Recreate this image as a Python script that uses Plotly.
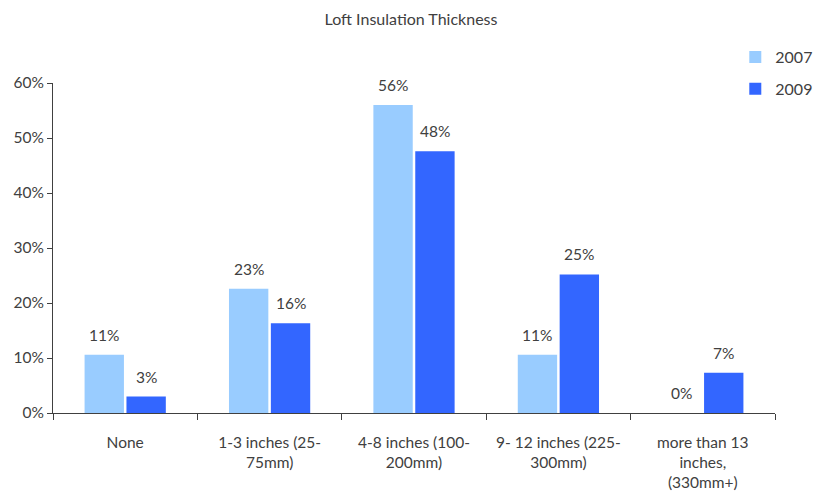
import plotly.graph_objects as go

# Loft insulation survey results
categories = [
    "None",
    "1-3 inches (25-<br>75mm)",
    "4-8 inches (100-<br>200mm)",
    "9- 12 inches (225-<br>300mm)",
    "more than 13<br>inches,<br>(330mm+)",
]
share_2007 = [0.106, 0.226, 0.560, 0.106, 0.0]
share_2009 = [0.030, 0.163, 0.476, 0.252, 0.073]

series = [
    ("2007", share_2007, "#99CCFF"),
    ("2009", share_2009, "#3366FF"),
]

FONT = "Lato, 'Open Sans', sans-serif"
TEXT = "#404040"
W, H = 822, 500
MARGIN = dict(l=53, r=47, t=83, b=87)
BARGAP = 0.42

fig = go.Figure()
for name, vals, color in series:
    fig.add_trace(go.Bar(
        name=name,
        x=categories,
        y=vals,
        marker=dict(color=color, line=dict(width=0)),
        legendgroup=name,
        hoverinfo="x+y",
    ))

# value labels sit a little above each bar, centred on its slot in the group
cat_px = (W - MARGIN["l"] - MARGIN["r"]) / len(categories)
slot_px = (1 - BARGAP) * cat_px / len(series)
for k, (name, vals, _) in enumerate(series):
    shift = (k - (len(series) - 1) / 2) * slot_px
    for cat, v in zip(categories, vals):
        fig.add_annotation(
            x=cat, y=v, xref="x", yref="y",
            text=f"{v:.0%}", showarrow=False,
            xshift=shift, yshift=20, yanchor="middle",
            font=dict(family=FONT, size=15.5, color=TEXT),
        )

fig.update_layout(
    width=W,
    height=H,
    margin=dict(**MARGIN, autoexpand=False),
    paper_bgcolor="white",
    plot_bgcolor="white",
    font=dict(family=FONT, size=15.5, color=TEXT),
    title=dict(text="Loft Insulation Thickness", x=0.5, xanchor="center",
               y=0.962, yanchor="middle", font=dict(family=FONT, size=16, color=TEXT)),
    barmode="group",
    bargap=BARGAP,
    bargroupgap=0.06,
    legend=dict(x=0.945, xanchor="left", y=1.13, yanchor="top",
                font=dict(family=FONT, size=16, color=TEXT),
                tracegroupgap=8, itemwidth=30, bgcolor="rgba(0,0,0,0)"),
    showlegend=True,
)
fig.update_xaxes(
    type="category",
    showline=True, linecolor="#404040", linewidth=1,
    ticks="outside", ticklen=6, tickcolor="#404040",
    tickson="boundaries",
    ticklabelstandoff=15,
    showgrid=False,
    tickfont=dict(family=FONT, size=15.5, color=TEXT),
)
fig.update_yaxes(
    range=[0, 0.6], dtick=0.1, tickformat=".0%",
    showline=True, linecolor="#404040", linewidth=1,
    ticks="outside", ticklen=5, tickcolor="#404040",
    showgrid=False, zeroline=False,
    tickfont=dict(family=FONT, size=15.5, color=TEXT),
)

fig.write_html("out.html")
